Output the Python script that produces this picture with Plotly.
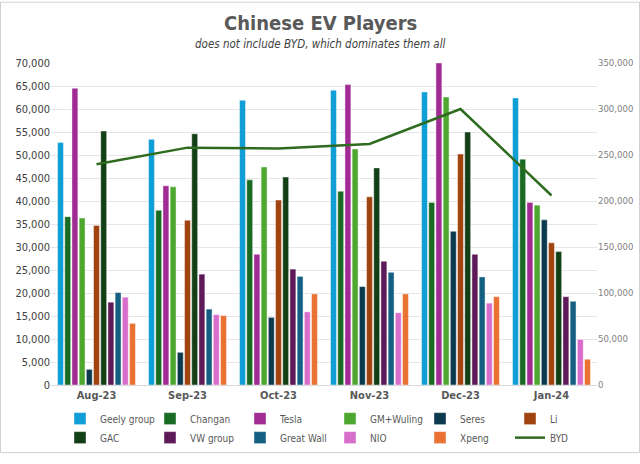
import plotly.graph_objects as go

months = ["Aug-23", "Sep-23", "Oct-23", "Nov-23", "Dec-23", "Jan-24"]

geely = [52700, 53400, 61900, 64100, 63700, 62400]
changan = [36600, 38000, 44600, 42100, 39700, 49100]
tesla = [64500, 43300, 28400, 65300, 70000, 39700]
gm_wuling = [36300, 43100, 47400, 51300, 62600, 39100]
seres = [3400, 7100, 14700, 21400, 33400, 35900]
li = [34700, 35800, 40200, 40900, 50200, 30900]
gac = [55200, 54600, 45200, 47200, 55000, 29000]
vw_group = [18000, 24100, 25200, 26900, 28400, 19200]
great_wall = [20100, 16500, 23600, 24500, 23500, 18200]
nio = [19100, 15300, 15900, 15700, 17800, 9900]
xpeng = [13400, 15100, 19800, 19800, 19200, 5600]
byd = [240000, 258000, 257000, 262000, 300000, 206000]

series = [
    ("Geely group", geely, "#0F9ED5"),
    ("Changan", changan, "#196B24"),
    ("Tesla", tesla, "#A02B93"),
    ("GM+Wuling", gm_wuling, "#4EA72E"),
    ("Seres", seres, "#0B3A4F"),
    ("Li", li, "#A0430F"),
    ("GAC", gac, "#123F16"),
    ("VW group", vw_group, "#5E1958"),
    ("Great Wall", great_wall, "#156082"),
    ("NIO", nio, "#D86ECC"),
    ("Xpeng", xpeng, "#E97132"),
]

FONT = "Noto Sans Condensed, DejaVu Sans Condensed, Liberation Sans Narrow, Liberation Sans, sans-serif"

fig = go.Figure()
for name, vals, col in series:
    fig.add_trace(go.Bar(
        x=months, y=vals, name=name,
        marker=dict(color=col, line=dict(color="rgba(255,255,255,0.7)", width=0.6)),
    ))

fig.add_trace(go.Scatter(
    x=months, y=byd, name="BYD", yaxis="y2", mode="lines",
    line=dict(color="#2F6B1F", width=2.5),
))

L, R, T, B = 51, 43, 63, 70
PW, PH = 640 - L - R, 464 - T - B


def ypos(py):
    return (464 - B - py) / PH


fig.update_layout(
    width=640, height=464,
    margin=dict(l=L, r=R, t=T, b=B),
    paper_bgcolor="white", plot_bgcolor="white",
    font=dict(family=FONT, size=11, color="#595959"),
    barmode="group", bargap=0.13, bargroupgap=0.18,
    showlegend=True,
    legend=dict(
        orientation="h", xref="paper", yref="paper",
        x=(60 - L) / PW, xanchor="left", y=ypos(463), yanchor="bottom",
        entrywidth=45, font=dict(size=10, color="#595959"),
        itemwidth=30, tracegroupgap=0,
    ),
    xaxis=dict(
        showgrid=False, showline=True, linecolor="#D9D9D9", linewidth=1,
        tickfont=dict(size=11, color="#595959", family=FONT, weight="bold"), ticks="",
        automargin=False,
    ),
    yaxis=dict(
        range=[0, 70000], dtick=5000, tickformat=",", showgrid=True,
        gridcolor="#E6E6E6", gridwidth=1, zeroline=False,
        tickfont=dict(size=11, color="#404040"), ticks="", automargin=False,
    ),
    yaxis2=dict(
        range=[0, 350000], dtick=50000, tickformat=",", overlaying="y",
        side="right", showgrid=False, zeroline=False,
        tickfont=dict(size=9.5, color="#808080"), ticks="", automargin=False,
    ),
    annotations=[
        dict(text="<b>Chinese EV Players</b>", xref="paper", yref="paper",
             x=(320 - L) / PW, y=ypos(22), xanchor="center", yanchor="middle",
             showarrow=False, font=dict(size=20, color="#595959", family=FONT)),
        dict(text="<i>does not include BYD, which dominates them all</i>", xref="paper", yref="paper",
             x=(320 - L) / PW, y=ypos(43), xanchor="center", yanchor="middle",
             showarrow=False, font=dict(size=11.5, color="#404040", family=FONT)),
    ],
    shapes=[
        dict(type="rect", xref="paper", yref="paper",
             x0=(0.5 - L) / PW, x1=(639.5 - L) / PW,
             y0=-(B - 0.5) / PH, y1=1 + (T - 0.5) / PH,
             line=dict(color="#D0D0D0", width=1), fillcolor="rgba(0,0,0,0)", layer="below"),
    ],
)

fig.write_html("out.html", config={"displayModeBar": False},
               post_script="document.body.style.margin='0';")
